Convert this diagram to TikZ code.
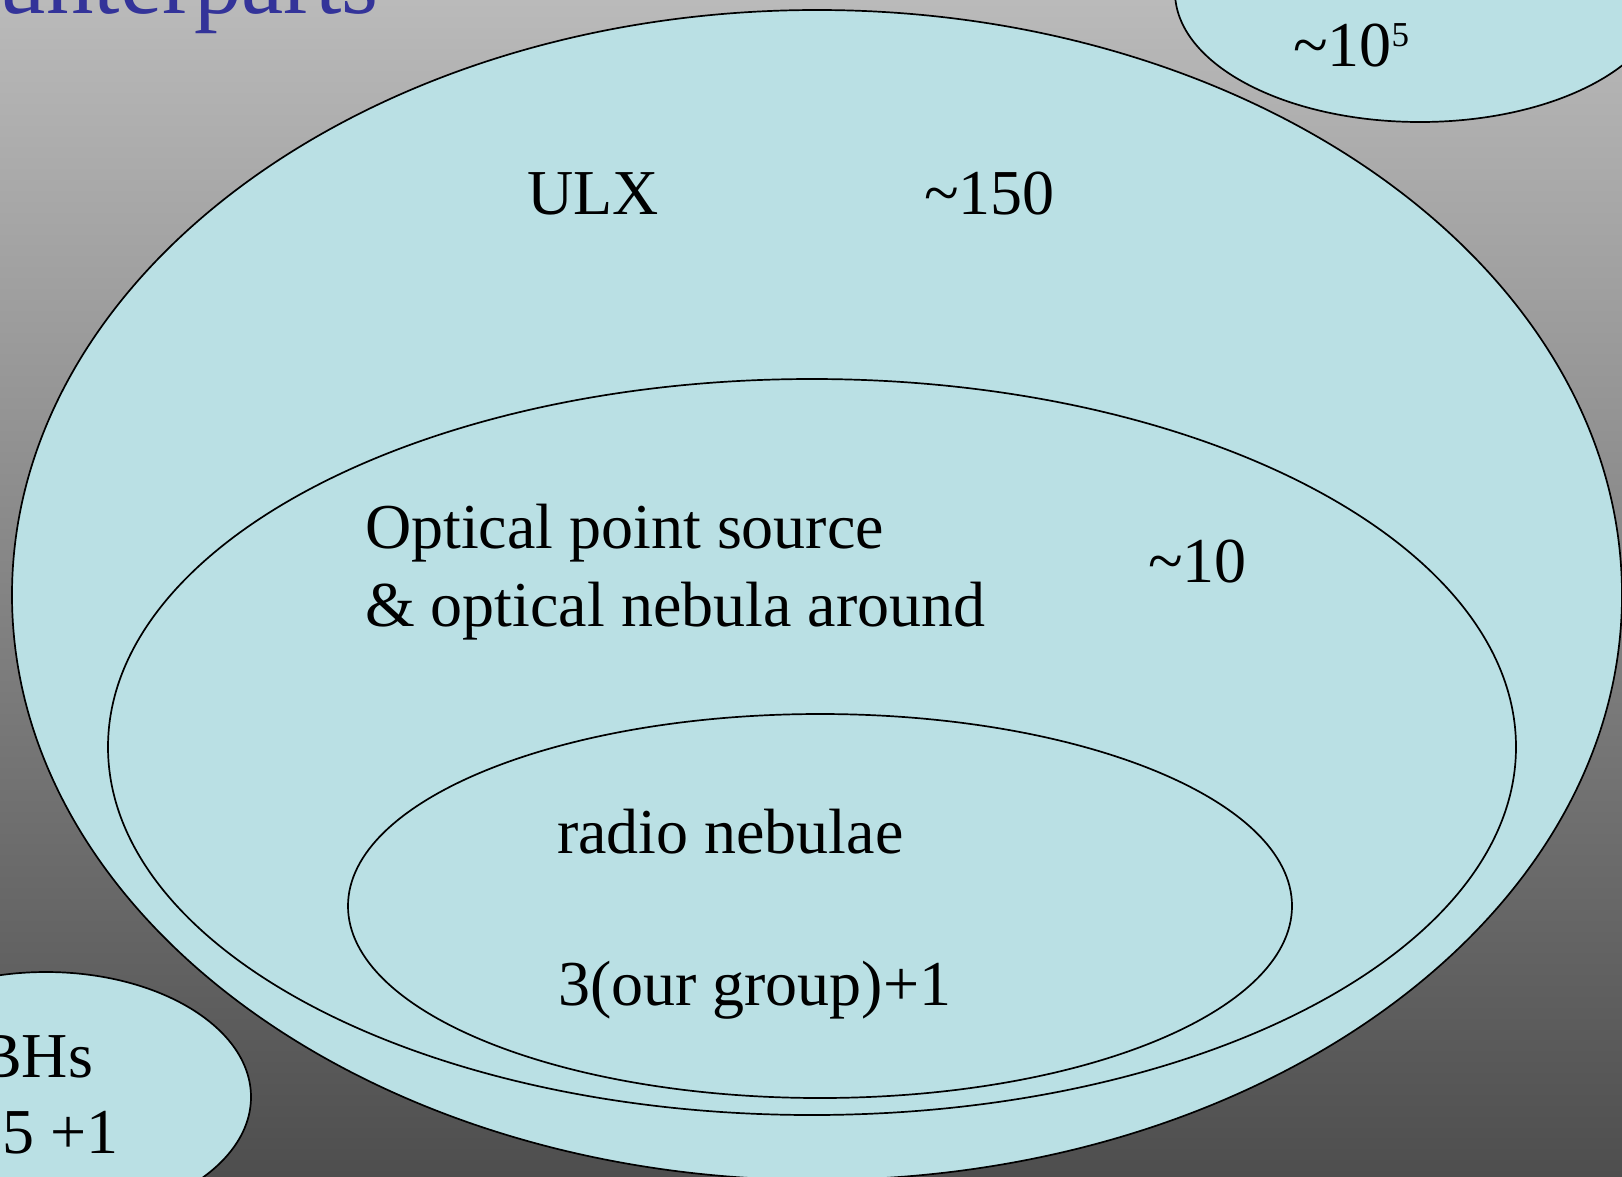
\documentclass[tikz,border=0pt]{standalone}
\usepackage{fontspec}
\setmainfont{Liberation Serif}
\definecolor{bgtop}{RGB}{186,186,186}
\definecolor{bgbot}{RGB}{78,78,78}
\definecolor{ellfill}{RGB}{186,224,228}
\definecolor{titleblue}{RGB}{51,51,153}
\begin{document}
\begin{tikzpicture}[x=1pt,y=-1pt,
  blob/.style={fill=ellfill, draw=black, line width=1.7pt},
  lbl/.style={anchor=base west, inner sep=0pt, outer sep=0pt, font=\fontsize{64}{77}\selectfont}]
\useasboundingbox (0,0) rectangle (1622,1176);
\clip (0,0) rectangle (1622,1176);
\shade[top color=bgtop, bottom color=bgbot] (0,0) rectangle (1622,1176);
% ellipses
\draw[blob] (1420,-8) ellipse [x radius=245pt, y radius=130pt];
\draw[blob] (46,1097) ellipse [x radius=205pt, y radius=125pt];
\draw[blob] (817,595) ellipse [x radius=805pt, y radius=585pt];
\draw[blob] (812,747) ellipse [x radius=704pt, y radius=368pt];
\draw[blob] (820,906) ellipse [x radius=472pt, y radius=192pt];
% title
\node[anchor=base east, inner sep=0pt, text=titleblue, font=\fontsize{95}{100}\selectfont] (title) at (379,13) {unterparts};
% labels
\node[lbl] (ulx) at (527,214) {ULX};
\node[lbl] (n150) at (924,214) {\textasciitilde150};
\node[lbl] (opt1) at (365,548) {Optical point source};
\node[lbl] (opt2) at (365,626) {\& optical nebula around};
\node[lbl] (n10) at (1148,582) {\textasciitilde10};
\node[lbl] (radio) at (557,853) {radio nebulae};
\node[lbl] (grp) at (558,1005) {3(our group)+1};
\node[lbl] (n1e5) at (1293,66) {\textasciitilde10\raisebox{20pt}{\fontsize{35}{35}\selectfont 5}};
\node[lbl, anchor=base east] (bhs) at (93,1077) {BHs};
\node[lbl] (gal) at (2,1153) {5 +1};
\end{tikzpicture}
\end{document}
